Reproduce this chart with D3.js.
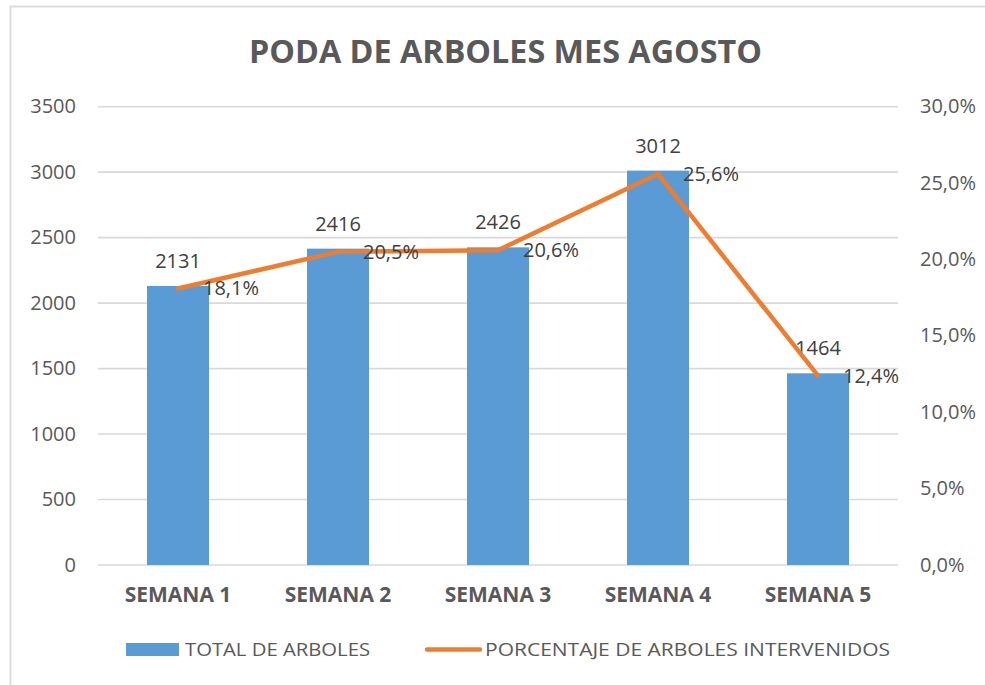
<!DOCTYPE html>
<html>
<head>
<meta charset="utf-8">
<script src="https://cdn.jsdelivr.net/npm/d3@7"></script>
<style>
  html, body { margin: 0; padding: 0; background: #ffffff; }
  svg { display: block; font-family: "Open Sans", "Noto Sans", sans-serif; }
</style>
</head>
<body>
<svg id="chart" width="985" height="685"></svg>
<script>
// Weekly tree pruning totals and share of trees treated
const categories = ["SEMANA 1", "SEMANA 2", "SEMANA 3", "SEMANA 4", "SEMANA 5"];
const totals = [2131, 2416, 2426, 3012, 1464];
const percents = [0.181, 0.205, 0.206, 0.256, 0.124];
const leftTicks = [0, 500, 1000, 1500, 2000, 2500, 3000, 3500];
const rightTicks = [0, 0.05, 0.10, 0.15, 0.20, 0.25, 0.30];

const titleText = "PODA DE ARBOLES MES AGOSTO";
const legendBars = "TOTAL DE ARBOLES";
const legendLine = "PORCENTAJE DE ARBOLES INTERVENIDOS";

const BAR = "#5b9bd5", LINE = "#ed7d31", GRID = "#d9d9d9", TXT = "#595959", LBL = "#404040";

const locale = d3.formatLocale({ decimal: ",", thousands: ".", grouping: [3], currency: ["", "€"] });
const pct = locale.format(".1%");

const svg = d3.select("#chart");

// frame edges
svg.append("line").attr("x1", 10).attr("x2", 985).attr("y1", 6.5).attr("y2", 6.5)
  .attr("stroke", "#dcdcdc").attr("stroke-width", 2);
svg.append("line").attr("x1", 10.5).attr("x2", 10.5).attr("y1", 6).attr("y2", 685)
  .attr("stroke", "#dcdcdc").attr("stroke-width", 2);

const plot = { left: 98, right: 898, top: 106.7, bottom: 565 };

const x = d3.scaleBand().domain(categories)
  .range([plot.left, plot.right])
  .paddingInner(0.6125).paddingOuter(0.30625);
const yL = d3.scaleLinear().domain([0, 3500]).range([plot.bottom, plot.top]);
const yR = d3.scaleLinear().domain([0, 0.30]).range([plot.bottom, plot.top]);

// title
svg.append("text")
  .attr("x", 505.5).attr("y", 63)
  .attr("text-anchor", "middle")
  .attr("font-size", 33).attr("font-weight", 700)
  .attr("fill", TXT)
  .attr("textLength", 513).attr("lengthAdjust", "spacingAndGlyphs")
  .text(titleText);

// gridlines
svg.append("g").selectAll("line").data(leftTicks).join("line")
  .attr("x1", plot.left).attr("x2", plot.right)
  .attr("y1", d => yL(d)).attr("y2", d => yL(d))
  .attr("stroke", GRID).attr("stroke-width", 1.6);

// left axis labels
const axL = svg.append("g").attr("transform", `translate(${plot.left - 22},0)`)
  .call(d3.axisLeft(yL).tickValues(leftTicks).tickSize(0).tickPadding(0).tickFormat(d3.format("d")));
axL.select(".domain").remove();
axL.selectAll("text").attr("font-size", 20).attr("fill", TXT)
  .attr("font-family", "'Open Sans', sans-serif").attr("dy", "0.3em");

// right axis labels
const axR = svg.append("g").attr("transform", `translate(${plot.right + 22},0)`)
  .call(d3.axisRight(yR).tickValues(rightTicks).tickSize(0).tickPadding(0).tickFormat(pct));
axR.select(".domain").remove();
axR.selectAll("text").attr("font-size", 20).attr("fill", TXT)
  .attr("font-family", "'Open Sans', sans-serif").attr("dy", "0.3em");

// category axis
const axB = svg.append("g").attr("transform", `translate(0,${plot.bottom + 22})`)
  .call(d3.axisBottom(x).tickSize(0).tickPadding(0));
axB.select(".domain").remove();
axB.selectAll("text").attr("font-size", 21).attr("font-weight", 700).attr("fill", TXT)
  .attr("font-family", "'Open Sans', sans-serif").attr("dy", "0.72em");

// bars
svg.append("g").selectAll("rect").data(totals).join("rect")
  .attr("x", (d, i) => x(categories[i]))
  .attr("width", x.bandwidth())
  .attr("y", d => yL(d))
  .attr("height", d => yL(0) - yL(d))
  .attr("fill", BAR);

// bar value labels
svg.append("g").selectAll("text").data(totals).join("text")
  .attr("x", (d, i) => x(categories[i]) + x.bandwidth() / 2)
  .attr("y", d => yL(d) - 18)
  .attr("text-anchor", "middle")
  .attr("font-size", 20).attr("fill", LBL)
  .text(d => d);

// percentage line
const cx = i => x(categories[i]) + x.bandwidth() / 2;
const line = d3.line().x((d, i) => cx(i)).y(d => yR(d));
svg.append("path").datum(percents)
  .attr("d", line)
  .attr("fill", "none").attr("stroke", LINE).attr("stroke-width", 4.5)
  .attr("stroke-linejoin", "round").attr("stroke-linecap", "round");

// percentage labels
svg.append("g").selectAll("text").data(percents).join("text")
  .attr("x", (d, i) => cx(i) + 25)
  .attr("y", d => yR(d))
  .attr("dy", "0.35em")
  .attr("font-size", 20).attr("fill", LBL)
  .text(d => pct(d));

// legend
const lg = svg.append("g");
lg.append("rect").attr("x", 126).attr("y", 643).attr("width", 53).attr("height", 13).attr("fill", BAR);
lg.append("text").attr("x", 185).attr("y", 656).attr("font-size", 19).attr("fill", TXT)
  .attr("textLength", 185).attr("lengthAdjust", "spacingAndGlyphs").text(legendBars);
lg.append("line").attr("x1", 427).attr("x2", 480).attr("y1", 649.5).attr("y2", 649.5)
  .attr("stroke", LINE).attr("stroke-width", 4.5).attr("stroke-linecap", "round");
lg.append("text").attr("x", 485).attr("y", 656).attr("font-size", 19).attr("fill", TXT)
  .attr("textLength", 405).attr("lengthAdjust", "spacingAndGlyphs").text(legendLine);
</script>
</body>
</html>
